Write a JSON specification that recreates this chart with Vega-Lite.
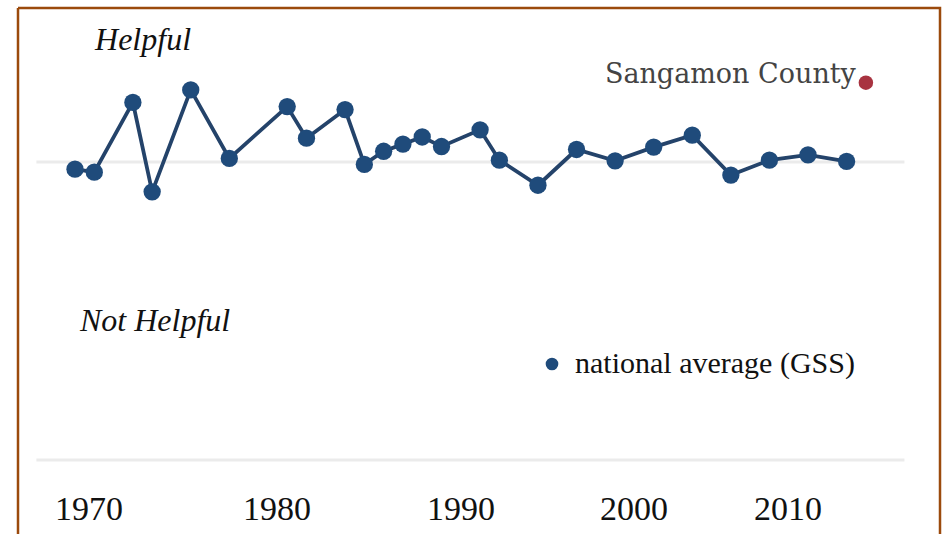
{
  "$schema": "https://vega.github.io/schema/vega-lite/v6.json",
  "width": 922,
  "height": 526,
  "autosize": {"type": "none"},
  "padding": {"left": 18, "top": 8, "right": 5, "bottom": 0},
  "background": "white",
  "config": {
    "view": {"stroke": "#9b4a0c", "strokeWidth": 2.5, "strokeDash": [1448, 922, 526, 0]}
  },
  "datasets": {
    "gss": [
      {"year": 1972, "share": 0.488, "series": "national average (GSS)"},
      {"year": 1973, "share": 0.483, "series": "national average (GSS)"},
      {"year": 1975, "share": 0.600, "series": "national average (GSS)"},
      {"year": 1976, "share": 0.450, "series": "national average (GSS)"},
      {"year": 1978, "share": 0.621, "series": "national average (GSS)"},
      {"year": 1980, "share": 0.506, "series": "national average (GSS)"},
      {"year": 1983, "share": 0.593, "series": "national average (GSS)"},
      {"year": 1984, "share": 0.540, "series": "national average (GSS)"},
      {"year": 1986, "share": 0.588, "series": "national average (GSS)"},
      {"year": 1987, "share": 0.496, "series": "national average (GSS)"},
      {"year": 1988, "share": 0.518, "series": "national average (GSS)"},
      {"year": 1989, "share": 0.530, "series": "national average (GSS)"},
      {"year": 1990, "share": 0.542, "series": "national average (GSS)"},
      {"year": 1991, "share": 0.526, "series": "national average (GSS)"},
      {"year": 1993, "share": 0.554, "series": "national average (GSS)"},
      {"year": 1994, "share": 0.503, "series": "national average (GSS)"},
      {"year": 1996, "share": 0.461, "series": "national average (GSS)"},
      {"year": 1998, "share": 0.521, "series": "national average (GSS)"},
      {"year": 2000, "share": 0.502, "series": "national average (GSS)"},
      {"year": 2002, "share": 0.525, "series": "national average (GSS)"},
      {"year": 2004, "share": 0.545, "series": "national average (GSS)"},
      {"year": 2006, "share": 0.478, "series": "national average (GSS)"},
      {"year": 2008, "share": 0.503, "series": "national average (GSS)"},
      {"year": 2010, "share": 0.512, "series": "national average (GSS)"},
      {"year": 2012, "share": 0.501, "series": "national average (GSS)"}
    ],
    "sangamon": [
      {"year": 2013, "share": 0.633, "series": "Sangamon County"}
    ],
    "yearLabels": [
      {"label": "1970", "at": 1972.73},
      {"label": "1980", "at": 1982.47},
      {"label": "1990", "at": 1992.01},
      {"label": "2000", "at": 2000.98},
      {"label": "2010", "at": 2008.96}
    ],
    "levels": [
      {"level": 0.5},
      {"level": 0}
    ],
    "notes": [
      {"note": "Helpful", "year": 1973.04, "share": 0.688},
      {"note": "Not Helpful", "year": 1972.26, "share": 0.2164}
    ]
  },
  "layer": [
    {
      "data": {"name": "levels"},
      "mark": {"type": "rule", "color": "#ebebeb", "strokeWidth": 3},
      "encoding": {
        "x": {"datum": 1970, "type": "quantitative", "scale": {"domain": [1969.0451, 2016.842], "nice": false, "zero": false}, "axis": null},
        "x2": {"datum": 2015},
        "y": {"field": "level", "type": "quantitative", "scale": {"domain": [-0.12416, 0.75839], "nice": false, "zero": false}, "axis": null}
      }
    },
    {
      "data": {"name": "gss"},
      "mark": {"type": "line", "color": "#24436a", "strokeWidth": 3.8},
      "encoding": {
        "x": {"field": "year", "type": "quantitative", "scale": {"domain": [1969.0451, 2016.842], "nice": false, "zero": false}, "axis": null},
        "y": {"field": "share", "type": "quantitative", "scale": {"domain": [-0.12416, 0.75839], "nice": false, "zero": false}, "axis": null}
      }
    },
    {
      "data": {"name": "gss"},
      "mark": {"type": "circle", "size": 300, "opacity": 1},
      "encoding": {
        "x": {"field": "year", "type": "quantitative", "scale": {"domain": [1969.0451, 2016.842], "nice": false, "zero": false}, "axis": null},
        "y": {"field": "share", "type": "quantitative", "scale": {"domain": [-0.12416, 0.75839], "nice": false, "zero": false}, "axis": null},
        "color": {
          "field": "series",
          "type": "nominal",
          "scale": {"domain": ["national average (GSS)"], "range": ["#1f4b7b"]},
          "legend": {
            "orient": "none",
            "legendX": 519,
            "legendY": 341,
            "title": null,
            "symbolType": "circle",
            "symbolSize": 160,
            "labelFont": "Liberation Serif",
            "labelFontSize": 30,
            "labelColor": "#111111",
            "labelOffset": 8,
            "labelLimit": 0,
            "encode": {"symbols": {"update": {"fill": {"value": "#142a4c"}, "stroke": {"value": "transparent"}, "opacity": {"value": 1}}}}
          }
        }
      }
    },
    {
      "data": {"name": "sangamon"},
      "mark": {"type": "circle", "size": 210, "opacity": 1, "color": "#a83340"},
      "encoding": {
        "x": {"field": "year", "type": "quantitative"},
        "y": {"field": "share", "type": "quantitative"}
      }
    },
    {
      "data": {"name": "sangamon"},
      "mark": {"type": "text", "align": "right", "baseline": "alphabetic", "dx": -10, "dy": 0, "font": "DejaVu Serif", "fontSize": 27, "color": "#444444"},
      "encoding": {
        "x": {"field": "year", "type": "quantitative"},
        "y": {"field": "share", "type": "quantitative"},
        "text": {"field": "series"}
      }
    },
    {
      "data": {"name": "yearLabels"},
      "mark": {"type": "text", "align": "center", "baseline": "alphabetic", "font": "Liberation Serif", "fontSize": 34, "color": "#111111"},
      "encoding": {
        "x": {"field": "at", "type": "quantitative"},
        "y": {"datum": -0.1007, "type": "quantitative"},
        "text": {"field": "label"}
      }
    },
    {
      "data": {"name": "notes"},
      "mark": {"type": "text", "align": "left", "baseline": "alphabetic", "font": "Liberation Serif", "fontStyle": "italic", "fontSize": 32, "color": "#111111"},
      "encoding": {
        "x": {"field": "year", "type": "quantitative"},
        "y": {"field": "share", "type": "quantitative"},
        "text": {"field": "note"}
      }
    }
  ]
}
